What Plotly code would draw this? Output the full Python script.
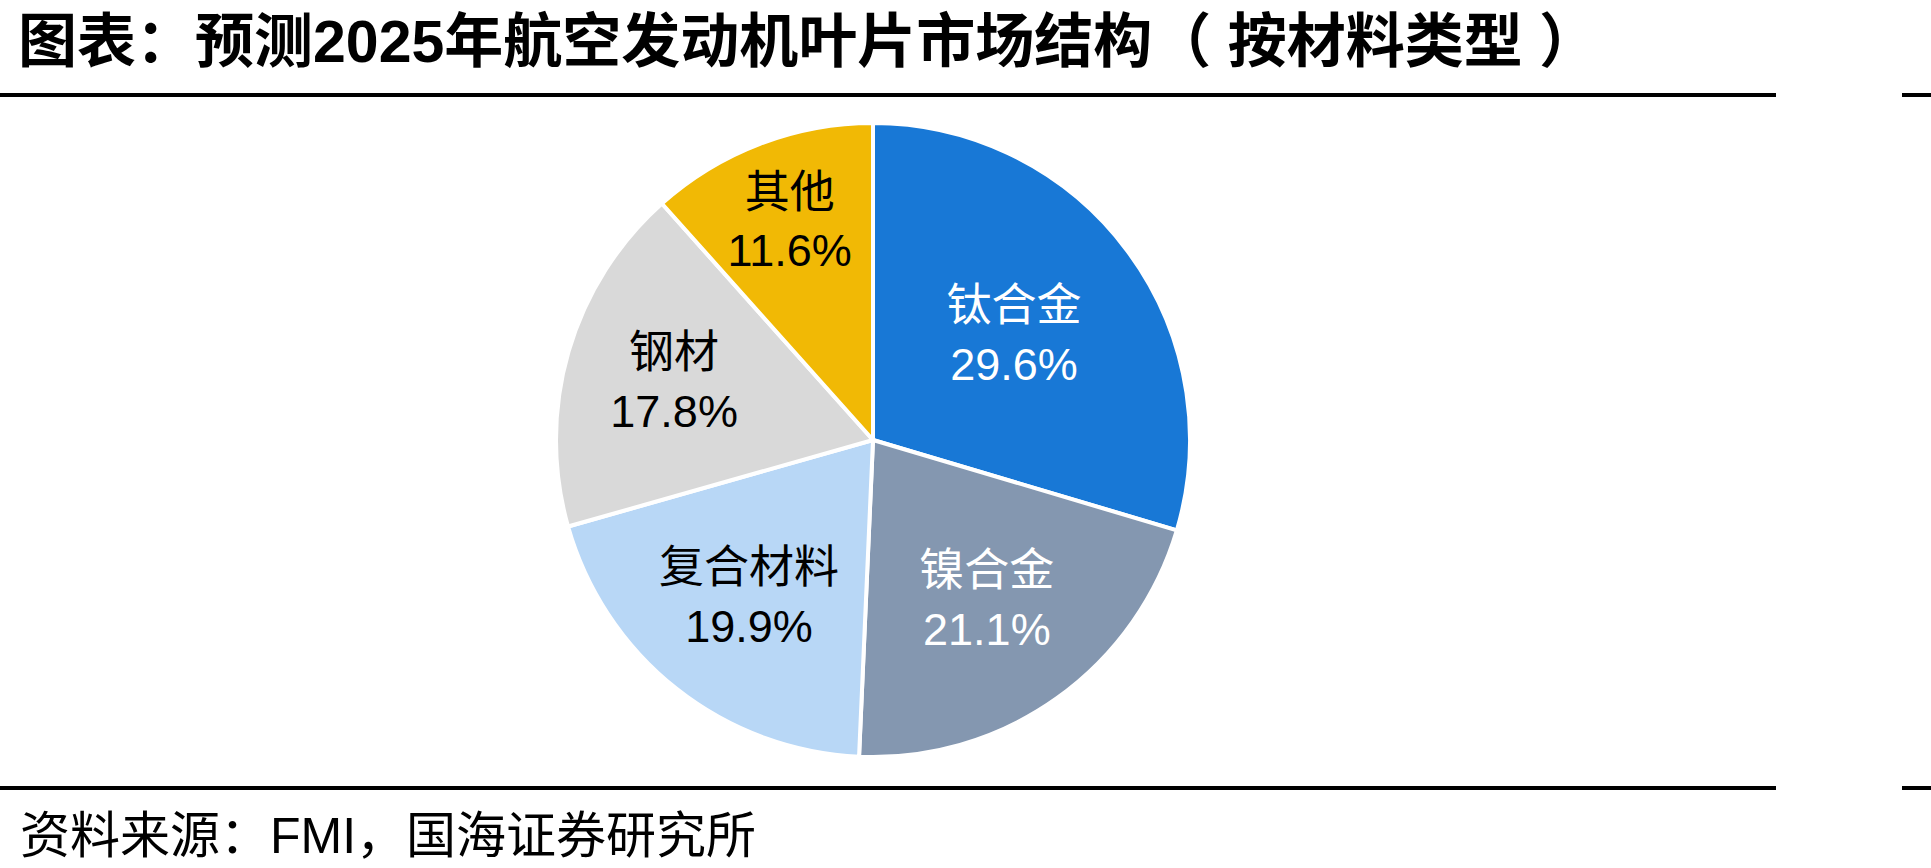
import plotly.graph_objects as go

# ---- data ----
categories = ["钛合金", "镍合金", "复合材料", "钢材", "其他"]
shares = [29.6, 21.1, 19.9, 17.8, 11.6]
slice_colors = ["#1878D6", "#8497B0", "#B8D7F6", "#D9D9D9", "#F1B905"]
label_colors = ["white", "white", "black", "black", "black"]

title_text = "图表：预测2025年航空发动机叶片市场结构（ 按材料类型 ）"
source_text = "资料来源：FMI，国海证券研究所"

W, H = 1931, 868
FONT = "Liberation Sans, Arial, Noto Sans CJK SC"

# pie geometry (pixels)
cx, cy, R = 873, 440, 317

fig = go.Figure()
fig.add_trace(go.Pie(
    labels=categories,
    values=shares,
    sort=False,
    direction="clockwise",
    rotation=0,
    marker=dict(colors=slice_colors, line=dict(color="white", width=4)),
    texttemplate="%{label}<br>%{percent:.1%}",
    textposition="inside",
    insidetextorientation="horizontal",
    textfont=dict(family=FONT, size=45, color=label_colors),
    hoverinfo="label+percent",
    showlegend=False,
    domain=dict(x=[(cx - R) / W, (cx + R) / W],
                y=[(H - cy - R) / H, (H - cy + R) / H]),
))

shapes = [
    dict(type="line", xref="paper", yref="paper",
         x0=0, x1=1776 / W, y0=(H - 95) / H, y1=(H - 95) / H,
         line=dict(color="black", width=4)),
    dict(type="line", xref="paper", yref="paper",
         x0=1902 / W, x1=1, y0=(H - 95) / H, y1=(H - 95) / H,
         line=dict(color="black", width=4)),
    dict(type="line", xref="paper", yref="paper",
         x0=0, x1=1776 / W, y0=(H - 788) / H, y1=(H - 788) / H,
         line=dict(color="black", width=4)),
    dict(type="line", xref="paper", yref="paper",
         x0=1902 / W, x1=1, y0=(H - 788) / H, y1=(H - 788) / H,
         line=dict(color="black", width=4)),
]

annotations = [
    dict(text="<b>" + title_text + "</b>", xref="paper", yref="paper",
         x=16 / W, y=(H - 42) / H, xanchor="left", yanchor="middle",
         showarrow=False, font=dict(family=FONT, size=59, color="black")),
    dict(text=source_text, xref="paper", yref="paper",
         x=18 / W, y=(H - 836) / H, xanchor="left", yanchor="middle",
         showarrow=False, font=dict(family=FONT, size=50, color="black")),
]

fig.update_layout(
    width=W, height=H,
    margin=dict(l=0, r=0, t=0, b=0),
    paper_bgcolor="white", plot_bgcolor="white",
    shapes=shapes, annotations=annotations,
    uniformtext=dict(minsize=45, mode="show"),
)

fig.write_html("out.html")
